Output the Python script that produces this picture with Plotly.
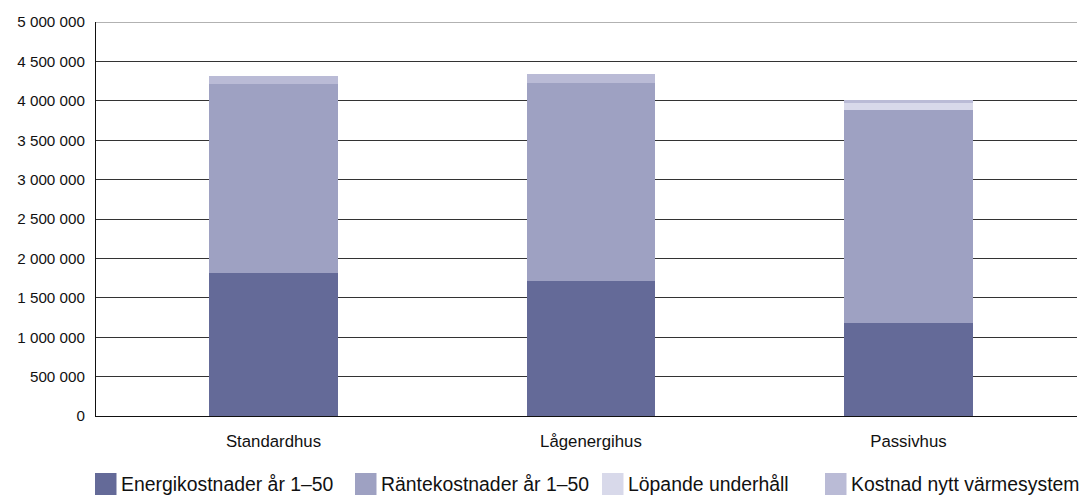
import plotly.graph_objects as go

categories = ["Standardhus", "Lågenergihus", "Passivhus"]
energikostnader = [1815000, 1713000, 1180000]
rantekostnader = [2398000, 2513000, 2703000]
lopande_underhall = [0, 0, 85000]
kostnad_varmesystem = [102000, 114000, 42000]

series_names = ["Energikostnader år 1–50", "Räntekostnader år 1–50",
                "Löpande underhåll", "Kostnad nytt värmesystem"]
series_values = [energikostnader, rantekostnader, lopande_underhall, kostnad_varmesystem]
colors = ["#646a98", "#9ea1c2", "#d8d9ea", "#babbd6"]

FONT = "Liberation Sans, Arial, Helvetica, sans-serif"

fig = go.Figure()
for name, vals, col in zip(series_names, series_values, colors):
    fig.add_trace(go.Bar(x=categories, y=vals, name=name, marker_color=col,
                         marker_line_width=0, width=0.406, showlegend=False,
                         hoverinfo="skip"))

# manual legend (big square swatches)
W, L, R, T, B = 1086, 96, 9, 22, 83
plot_w = W - L - R
plot_h = 499 - T - B
leg_x_px = [95, 355, 602, 825]
def px_x(p):
    return (p - L) / plot_w
def px_y(p):
    return (499 - B - p) / plot_h

for name, col, xp in zip(series_names, colors, leg_x_px):
    fig.add_shape(type="rect", xref="paper", yref="paper",
                  x0=px_x(xp), x1=px_x(xp + 21.5), y0=px_y(473), y1=px_y(495),
                  fillcolor=col, line_width=0, layer="above")
    fig.add_annotation(xref="paper", yref="paper", x=px_x(xp + 24), y=px_y(484.5),
                       text=name, showarrow=False, xanchor="left", yanchor="middle",
                       font=dict(family=FONT, size=19.4, color="#111111"))

fig.update_layout(
    width=1086, height=499,
    barmode="stack",
    bargap=0.6,
    margin=dict(l=L, r=R, t=T, b=B),
    plot_bgcolor="white", paper_bgcolor="white",
    font=dict(family=FONT, size=15.2, color="#111111"),
    separators=", ",
)
fig.update_xaxes(range=[-0.559, 2.531], showline=True, linecolor="#111111", linewidth=1.2,
                 showgrid=False, ticks="outside", ticklen=10, tickcolor="rgba(0,0,0,0)",
                 tickfont=dict(family=FONT, size=16.8, color="#111111"))
fig.update_yaxes(range=[0, 5000000], dtick=500000, tickformat=",d",
                 showline=True, linecolor="#111111", linewidth=1.2,
                 showgrid=True, gridcolor="#333333", gridwidth=1,
                 ticks="outside", ticklen=7, tickcolor="rgba(0,0,0,0)",
                 tickfont=dict(family=FONT, size=15.2, color="#111111"), zeroline=False)
fig.add_shape(type="line", xref="paper", yref="y", x0=0, x1=1, y0=5000000, y1=5000000,
              line=dict(color="#666666", width=1), layer="below")

fig.write_html("out.html", config={"displayModeBar": False},
               post_script="document.body.style.margin='0px';document.body.style.overflow='hidden';")
